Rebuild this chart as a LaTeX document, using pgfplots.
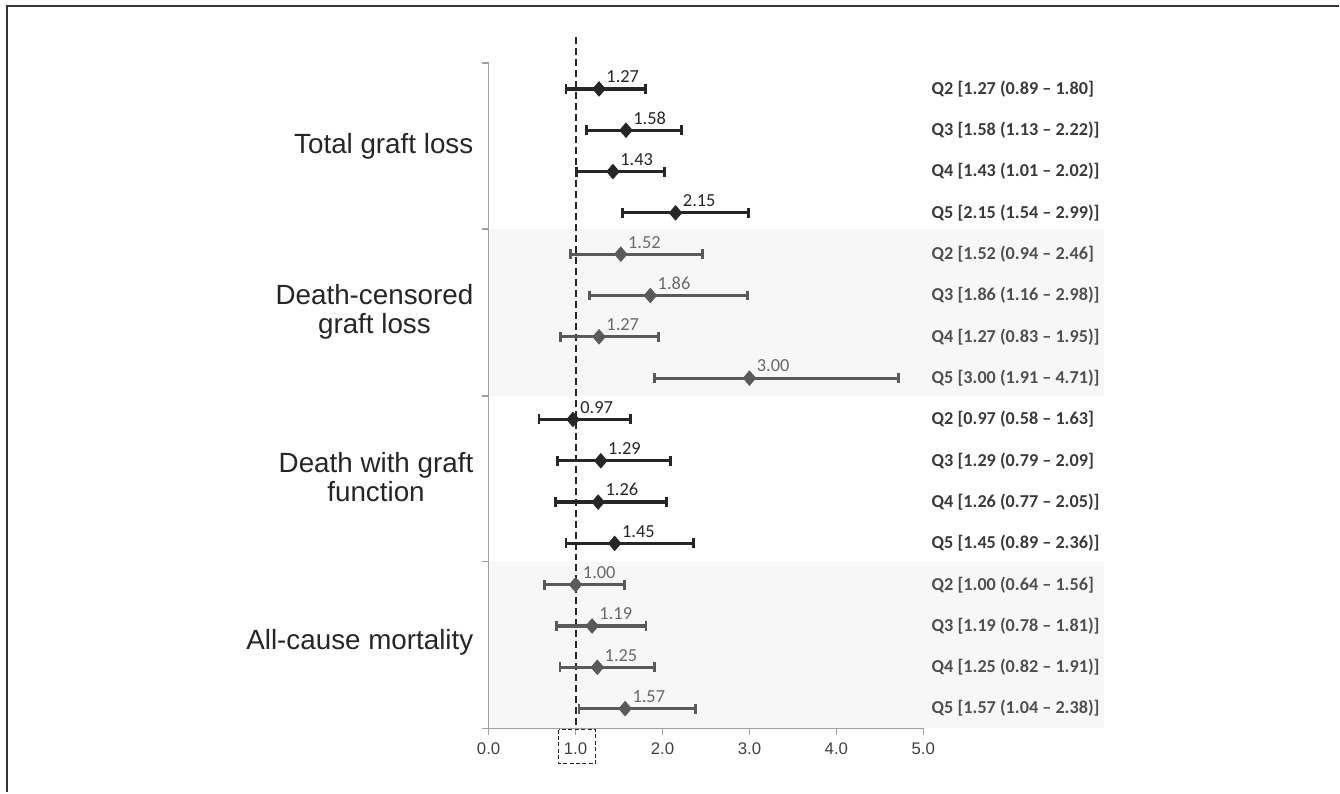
\documentclass[border=0pt]{standalone}
\usepackage{fontspec}
\usepackage{pgfplots}
\usepackage{pgfplotstable}
\pgfplotsset{compat=1.18}
\setmainfont{Liberation Sans}
\newfontfamily\calfont{Carlito}
\definecolor{dk}{HTML}{262626}
\definecolor{gr}{HTML}{5A5A5A}
\definecolor{grt}{HTML}{6A6A6A}
\definecolor{axc}{HTML}{A0A0A0}
\definecolor{band}{HTML}{F7F7F7}
\definecolor{lbl1}{HTML}{3A3A3A}
\definecolor{lbl2}{HTML}{505050}

\pgfplotstableread{
x y lo hi
1.27 0 0.89 1.80
1.58 -1 1.13 2.22
1.43 -2 1.01 2.02
2.15 -3 1.54 2.99
}\gA
\pgfplotstableread{
x y lo hi
1.52 -4 0.94 2.46
1.86 -5 1.16 2.98
1.27 -6 0.83 1.95
3.00 -7 1.91 4.71
}\gB
\pgfplotstableread{
x y lo hi
0.97 -8 0.58 1.63
1.29 -9 0.79 2.09
1.26 -10 0.77 2.05
1.45 -11 0.89 2.36
}\gC
\pgfplotstableread{
x y lo hi
1.00 -12 0.64 1.56
1.19 -13 0.78 1.81
1.25 -14 0.82 1.91
1.57 -15 1.04 2.38
}\gD

\pgfplotsset{
  fp/.style={
    only marks, mark=diamond*, mark size=3.6pt,
    mark options={fill=#1, draw=#1, xscale=1.15, solid},
    error bars/x dir=both, error bars/x explicit,
    error bars/error mark=|,
    error bars/error bar style={line width=1.6pt, color=#1},
    error bars/error mark options={line width=1.4pt, mark size=2.5pt, color=#1},
  },
  vl/.style={
    point meta=x,
    nodes near coords={\pgfmathprintnumber[fixed,fixed zerofill,precision=2]{\pgfplotspointmeta}},
    every node near coord/.append style={anchor=south west, inner sep=0pt,
      xshift=3.5pt, yshift=2.8pt, font=\calfont\fontsize{9.2}{10}\selectfont, text=#1},
  },
}

\begin{document}
\begin{tikzpicture}
\draw[line width=1pt, color=black!80] (3.5pt,0) -- (3.5pt,393.5pt) -- (670pt,393.5pt);
\begin{axis}[
  at={(244.5pt,32pt)}, anchor=south west,
  scale only axis, width=217.5pt, height=333pt,
  xmin=0, xmax=5, ymin=-15.48, ymax=0.629,
  clip=false, set layers,
  axis x line*=bottom, axis y line*=left,
  axis line style={axc, line width=0.8pt},
  tick style={axc, line width=0.8pt},
  major tick length=3.5pt, tick align=outside,
  xtick={0,1,2,3,4,5},
  ytick={0.629,-3.387,-7.428,-11.44,-15.48},
  yticklabels={},
  xticklabel style={font=\fontsize{8.4}{10}\selectfont, text=black!75},
  /pgf/number format/assume math mode=true,
  xticklabel={\pgfmathprintnumber[fixed,fixed zerofill,precision=1]{\tick}},
]
\fill[band, on layer=axis background] (axis cs:0,-3.387) rectangle (axis cs:7.08,-7.428);
\fill[band, on layer=axis background] (axis cs:0,-11.44) rectangle (axis cs:7.08,-15.48);

\draw[dk, line width=1pt, dash pattern=on 3.5pt off 2pt] (axis cs:1,1.26) -- (axis cs:1,-15.48);
\draw[dk, line width=0.6pt, dash pattern=on 2pt off 1.2pt] (axis cs:0.805,-15.51) rectangle (axis cs:1.23,-16.33);

\addplot[fp=dk, vl=dk] table[x=x, y=y, x error minus expr=\thisrow{x}-\thisrow{lo}, x error plus expr=\thisrow{hi}-\thisrow{x}] {\gA};
\addplot[fp=gr, vl=grt] table[x=x, y=y, x error minus expr=\thisrow{x}-\thisrow{lo}, x error plus expr=\thisrow{hi}-\thisrow{x}] {\gB};
\addplot[fp=dk, vl=dk] table[x=x, y=y, x error minus expr=\thisrow{x}-\thisrow{lo}, x error plus expr=\thisrow{hi}-\thisrow{x}] {\gC};
\addplot[fp=gr, vl=grt] table[x=x, y=y, x error minus expr=\thisrow{x}-\thisrow{lo}, x error plus expr=\thisrow{hi}-\thisrow{x}] {\gD};

\begin{scope}[every node/.style={anchor=east, align=center, inner sep=0pt, font=\fontsize{13.9}{14.6}\selectfont, text=dk}]
\node at (axis cs:-0.172,-1.4) {Total graft loss};
\node at (axis cs:-0.172,-5.4) {Death-censored\\graft loss};
\node at (axis cs:-0.172,-9.4) {Death with graft\\function};
\node at (axis cs:-0.172,-13.4) {All-cause mortality};
\end{scope}

\begin{scope}[every node/.style={anchor=west, inner sep=0pt, font=\calfont\bfseries\fontsize{9.1}{11}\selectfont}]
\node[text=lbl1] at (axis cs:5.092,0) {Q2 [1.27 (0.89 – 1.80]};
\node[text=lbl1] at (axis cs:5.092,-1) {Q3 [1.58 (1.13 – 2.22)]};
\node[text=lbl1] at (axis cs:5.092,-2) {Q4 [1.43 (1.01 – 2.02)]};
\node[text=lbl1] at (axis cs:5.092,-3) {Q5 [2.15 (1.54 – 2.99)]};
\node[text=lbl2] at (axis cs:5.092,-4) {Q2 [1.52 (0.94 – 2.46]};
\node[text=lbl2] at (axis cs:5.092,-5) {Q3 [1.86 (1.16 – 2.98)]};
\node[text=lbl2] at (axis cs:5.092,-6) {Q4 [1.27 (0.83 – 1.95)]};
\node[text=lbl2] at (axis cs:5.092,-7) {Q5 [3.00 (1.91 – 4.71)]};
\node[text=lbl1] at (axis cs:5.092,-8) {Q2 [0.97 (0.58 – 1.63]};
\node[text=lbl1] at (axis cs:5.092,-9) {Q3 [1.29 (0.79 – 2.09]};
\node[text=lbl1] at (axis cs:5.092,-10) {Q4 [1.26 (0.77 – 2.05)]};
\node[text=lbl1] at (axis cs:5.092,-11) {Q5 [1.45 (0.89 – 2.36)]};
\node[text=lbl2] at (axis cs:5.092,-12) {Q2 [1.00 (0.64 – 1.56]};
\node[text=lbl2] at (axis cs:5.092,-13) {Q3 [1.19 (0.78 – 1.81)]};
\node[text=lbl2] at (axis cs:5.092,-14) {Q4 [1.25 (0.82 – 1.91)]};
\node[text=lbl2] at (axis cs:5.092,-15) {Q5 [1.57 (1.04 – 2.38)]};
\end{scope}
\end{axis}
\path (0,0) rectangle (670pt,396.5pt);
\end{tikzpicture}
\end{document}
